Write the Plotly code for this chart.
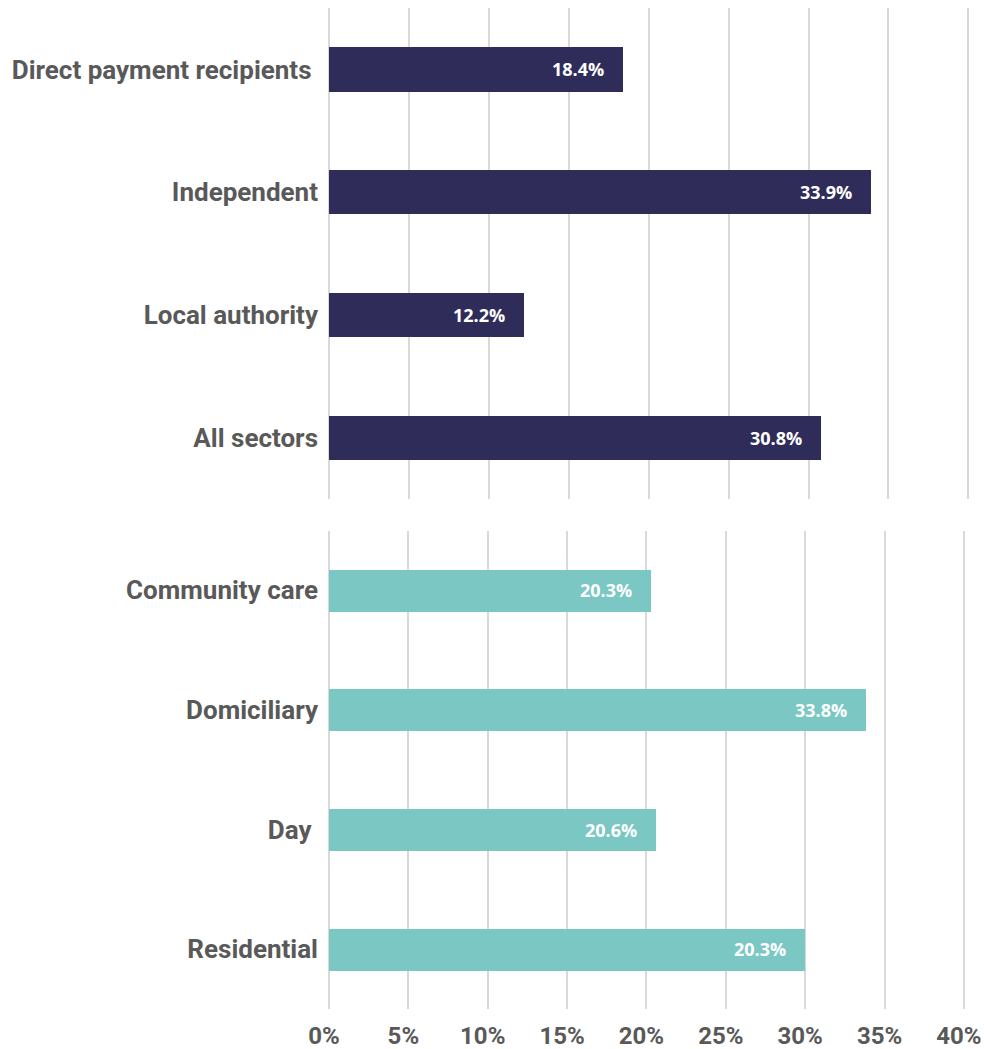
import plotly.graph_objects as go

# Top panel: sector
sector_labels = ["Direct payment recipients\u00a0", "Independent", "Local authority", "All sectors"]
sector_values = [18.4, 33.9, 12.2, 30.8]
sector_text = ["18.4%", "33.9%", "12.2%", "30.8%"]

# Bottom panel: service type
service_labels = ["Community care", "Domiciliary", "Day\u00a0", "Residential"]
service_values = [20.3, 33.8, 20.6, 30.0]
service_text = ["20.3%", "33.8%", "20.6%", "20.3%"]

tick_vals = [0, 5, 10, 15, 20, 25, 30, 35, 40]
tick_text = ["0%", "5%", "10%", "15%", "20%", "25%", "30%", "35%", "40%"]

NAVY = "#302C5A"
TEAL = "#7AC7C4"
GREY = "#595959"
GRID = "#D9D9D9"
LABEL_FONT = "Roboto, sans-serif"
NUM_FONT = "Open Sans, sans-serif"

fig = go.Figure()
fig.add_trace(go.Bar(
    y=sector_labels, x=sector_values, orientation="h",
    marker=dict(color=NAVY, line=dict(width=0)), width=0.36,
    xaxis="x", yaxis="y", hoverinfo="skip",
))
fig.add_trace(go.Bar(
    y=service_labels, x=service_values, orientation="h",
    marker=dict(color=TEAL, line=dict(width=0)), width=0.35,
    xaxis="x2", yaxis="y2", hoverinfo="skip",
))

annotations = []
for lab, v, t in zip(sector_labels, sector_values, sector_text):
    annotations.append(dict(x=v, y=lab, xref="x", yref="y", text=t, showarrow=False,
                            xanchor="right", xshift=-17,
                            font=dict(family=NUM_FONT, size=18, color="white", weight=700)))
for lab, v, t in zip(service_labels, service_values, service_text):
    annotations.append(dict(x=v, y=lab, xref="x2", yref="y2", text=t, showarrow=False,
                            xanchor="right", xshift=-17,
                            font=dict(family=NUM_FONT, size=18, color="white", weight=700)))

axis_common = dict(range=[0, 40.1], tickvals=tick_vals, showgrid=True, gridcolor=GRID,
                   gridwidth=2, zeroline=True, zerolinecolor=GRID, zerolinewidth=2,
                   showline=False, fixedrange=True)

fig.update_layout(
    width=984, height=1049,
    margin=dict(l=329, r=14, t=0, b=40),
    paper_bgcolor="white", plot_bgcolor="white",
    showlegend=False, bargap=0,
    annotations=annotations,
    xaxis=dict(**axis_common, domain=[0, 1], anchor="y", showticklabels=False),
    yaxis=dict(domain=[0.505, 0.992], autorange="reversed", anchor="x",
               tickfont=dict(family=LABEL_FONT, size=26, color=GREY, weight=700),
               ticks="", ticklabelstandoff=10, showgrid=False, zeroline=False, fixedrange=True),
    xaxis2=dict(**axis_common, domain=[0, 0.993], anchor="y2", ticktext=tick_text,
                tickfont=dict(family=LABEL_FONT, size=24, color=GREY, weight=700),
                ticks="", ticklabelstandoff=10, ticklabelshift=-5,
                ticklabeloverflow="allow", automargin=False),
    yaxis2=dict(domain=[0, 0.4742], autorange="reversed", anchor="x2",
                tickfont=dict(family=LABEL_FONT, size=26, color=GREY, weight=700),
                ticks="", ticklabelstandoff=10, showgrid=False, zeroline=False, fixedrange=True),
)

fig.write_html("out.html")
